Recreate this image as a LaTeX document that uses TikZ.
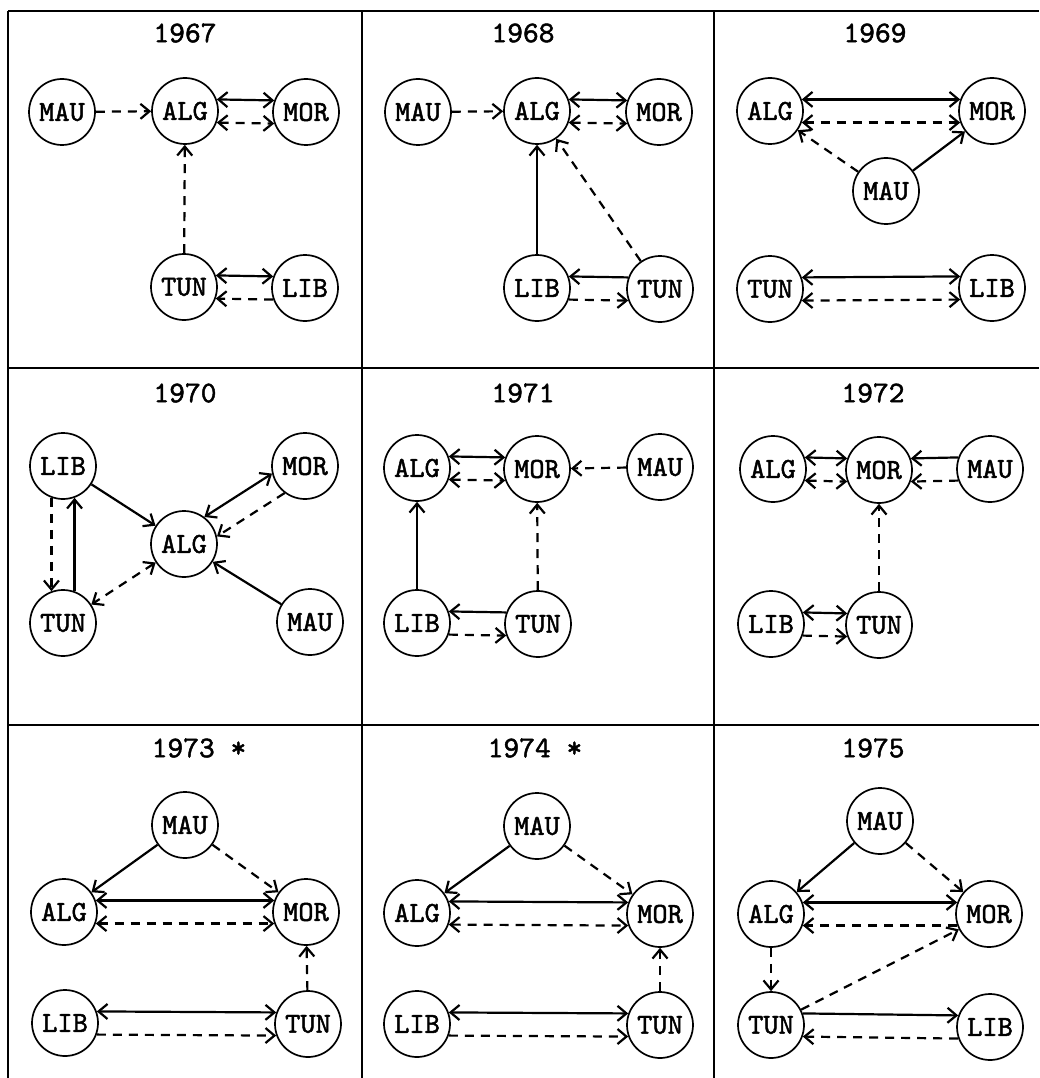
\documentclass[tikz,border=0pt]{standalone}
\usepackage{fontspec}
\newfontfamily\typefont{lmmono10-regular.otf}[FakeBold=1.6]
\usetikzlibrary{arrows.meta}
\begin{document}
\begin{tikzpicture}[x=1pt,y=-1pt,
  country/.style={circle,draw,line width=1.7pt,minimum size=66pt,inner sep=0pt,font=\typefont\fontsize{29}{32}\selectfont},
  yearlabel/.style={font=\typefont\fontsize{30}{34}\selectfont},
  rel/.style={line width=2.2pt},
  weak/.style={line width=2.2pt,dash pattern=on 9pt off 7pt},
  gridline/.style={line width=2.8pt},
  >={Straight Barb[length=9pt,width=15pt]}
]
\fill[white] (0,0) rectangle (1039,1078);
\useasboundingbox (0,0) rectangle (1039,1078);
% grid
\draw[gridline] (8,11) -- (1039,11);
\draw[gridline] (8,368) -- (1039,368);
\draw[gridline] (8,725) -- (1039,725);
\draw[gridline] (8,11) -- (8,1078);
\draw[gridline] (362,11) -- (362,1078);
\draw[gridline] (714,11) -- (714,1078);

% ---------- 1967
\node[yearlabel] (y67) at (185,33) {1967};
\node[country] (mau67) at (62,112) {MAU};
\node[country] (alg67) at (185,111) {ALG};
\node[country] (mor67) at (306,112) {MOR};
\node[country] (tun67) at (184,287) {TUN};
\node[country] (lib67) at (305,288) {LIB};
\draw[weak,->] (mau67) -- (alg67);
\draw[rel,<->] (alg67.20) -- (mor67.160);
\draw[weak,<->] (alg67.340) -- (mor67.200);
\draw[weak,->] (tun67) -- (alg67);
\draw[rel,<->] (tun67.20) -- (lib67.160);
\draw[weak,->] (lib67.200) -- (tun67.340);

% ---------- 1968
\node[yearlabel] (y68) at (523,33) {1968};
\node[country] (mau68) at (418,112) {MAU};
\node[country] (alg68) at (537,111) {ALG};
\node[country] (mor68) at (659,112) {MOR};
\node[country] (lib68) at (537,288) {LIB};
\node[country] (tun68) at (660,289) {TUN};
\draw[weak,->] (mau68) -- (alg68);
\draw[rel,<->] (alg68.20) -- (mor68.160);
\draw[weak,<->] (alg68.340) -- (mor68.200);
\draw[rel,->] (lib68) -- (alg68);
\draw[weak,->] (tun68) -- (alg68);
\draw[rel,->] (tun68.160) -- (lib68.20);
\draw[weak,->] (lib68.340) -- (tun68.200);

% ---------- 1969
\node[yearlabel] (y69) at (875,33) {1969};
\node[country] (alg69) at (770,111) {ALG};
\node[country] (mor69) at (992,111) {MOR};
\node[country] (mau69) at (886,191) {MAU};
\node[country] (tun69) at (770,289) {TUN};
\node[country] (lib69) at (992,288) {LIB};
\draw[rel,<->] (alg69.20) -- (mor69.160);
\draw[weak,<->] (alg69.340) -- (mor69.200);
\draw[weak,->] (mau69) -- (alg69);
\draw[rel,->] (mau69) -- (mor69);
\draw[rel,<->] (tun69.20) -- (lib69.160);
\draw[weak,<->] (tun69.340) -- (lib69.200);

% ---------- 1970
\node[yearlabel] (y70) at (185,393) {1970};
\node[country] (lib70) at (63,466) {LIB};
\node[country] (mor70) at (305,466) {MOR};
\node[country] (alg70) at (184,544) {ALG};
\node[country] (tun70) at (63,623) {TUN};
\node[country] (mau70) at (310,622) {MAU};
\draw[weak,->] (lib70.250) -- (tun70.110);
\draw[rel,->] (tun70.70) -- (lib70.290);
\draw[rel,->] (lib70) -- (alg70);
\draw[rel,<->] (alg70.53) -- (mor70.193);
\draw[weak,->] (mor70.233) -- (alg70.13);
\draw[weak,<->] (alg70) -- (tun70);
\draw[rel,->] (mau70) -- (alg70);

% ---------- 1971
\node[yearlabel] (y71) at (523,393) {1971};
\node[country] (alg71) at (417,468) {ALG};
\node[country] (mor71) at (537,469) {MOR};
\node[country] (mau71) at (660,467) {MAU};
\node[country] (lib71) at (417,623) {LIB};
\node[country] (tun71) at (538,624) {TUN};
\draw[rel,<->] (alg71.20) -- (mor71.160);
\draw[weak,<->] (alg71.340) -- (mor71.200);
\draw[weak,->] (mau71) -- (mor71);
\draw[rel,->] (lib71) -- (alg71);
\draw[weak,->] (tun71) -- (mor71);
\draw[rel,->] (tun71.160) -- (lib71.20);
\draw[weak,->] (lib71.340) -- (tun71.200);

% ---------- 1972
\node[yearlabel] (y72) at (873,393) {1972};
\node[country] (alg72) at (773,469) {ALG};
\node[country] (mor72) at (879,470) {MOR};
\node[country] (mau72) at (990,469) {MAU};
\node[country] (lib72) at (771,624) {LIB};
\node[country] (tun72) at (879,625) {TUN};
\draw[rel,<->] (alg72.20) -- (mor72.160);
\draw[weak,<->] (alg72.340) -- (mor72.200);
\draw[rel,->] (mau72.160) -- (mor72.20);
\draw[weak,->] (mau72.200) -- (mor72.340);
\draw[weak,->] (tun72) -- (mor72);
\draw[rel,<->] (lib72.20) -- (tun72.160);
\draw[weak,->] (lib72.340) -- (tun72.200);

% ---------- 1973
\node[yearlabel] (y73) at (199,748) {1973 *};
\node[country] (mau73) at (185,825) {MAU};
\node[country] (alg73) at (64,912) {ALG};
\node[country] (mor73) at (306,912) {MOR};
\node[country] (lib73) at (65,1023) {LIB};
\node[country] (tun73) at (308,1024) {TUN};
\draw[rel,->] (mau73) -- (alg73);
\draw[weak,->] (mau73) -- (mor73);
\draw[rel,<->] (alg73.20) -- (mor73.160);
\draw[weak,<->] (alg73.340) -- (mor73.200);
\draw[weak,->] (tun73) -- (mor73);
\draw[rel,<->] (lib73.20) -- (tun73.160);
\draw[weak,->] (lib73.340) -- (tun73.200);

% ---------- 1974
\node[yearlabel] (y74) at (535,748) {1974 *};
\node[country] (mau74) at (537,826) {MAU};
\node[country] (alg74) at (417,913) {ALG};
\node[country] (mor74) at (660,914) {MOR};
\node[country] (lib74) at (417,1024) {LIB};
\node[country] (tun74) at (660,1025) {TUN};
\draw[rel,->] (mau74) -- (alg74);
\draw[weak,->] (mau74) -- (mor74);
\draw[rel,<->] (alg74.20) -- (mor74.160);
\draw[weak,<->] (alg74.340) -- (mor74.200);
\draw[weak,->] (tun74) -- (mor74);
\draw[rel,<->] (lib74.20) -- (tun74.160);
\draw[weak,->] (lib74.340) -- (tun74.200);

% ---------- 1975
\node[yearlabel] (y75) at (873,748) {1975};
\node[country] (mau75) at (880,821) {MAU};
\node[country] (alg75) at (771,914) {ALG};
\node[country] (mor75) at (989,914) {MOR};
\node[country] (tun75) at (771,1025) {TUN};
\node[country] (lib75) at (990,1027) {LIB};
\draw[rel,->] (mau75) -- (alg75);
\draw[weak,->] (mau75) -- (mor75);
\draw[rel,<->] (alg75.20) -- (mor75.160);
\draw[weak,->] (mor75.200) -- (alg75.340);
\draw[weak,->] (alg75) -- (tun75);
\draw[weak,->] (tun75) -- (mor75);
\draw[rel,->] (tun75.20) -- (lib75.160);
\draw[weak,->] (lib75.200) -- (tun75.340);
\end{tikzpicture}
\end{document}
